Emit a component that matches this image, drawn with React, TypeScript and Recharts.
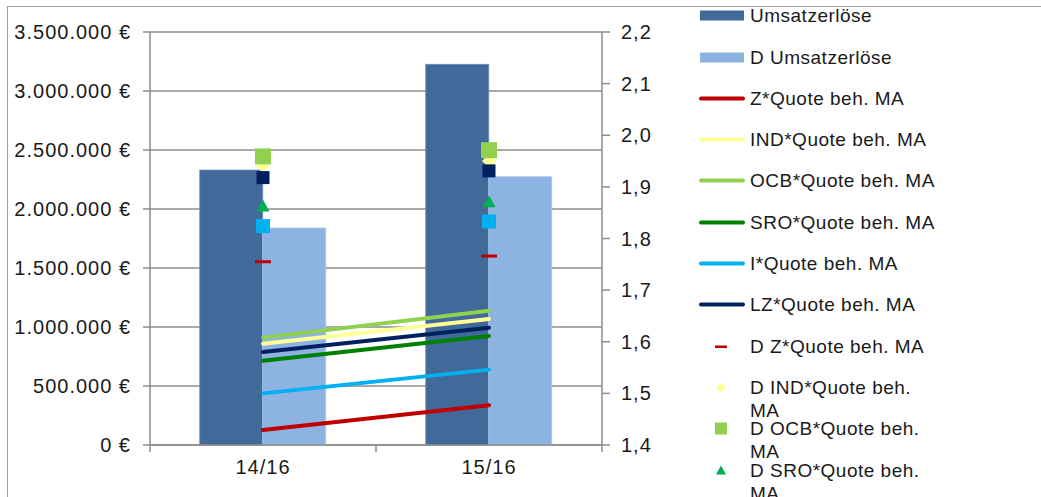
import { ComposedChart, Bar, Line, XAxis, YAxis, CartesianGrid } from 'recharts';

// Categories and values
const CATEGORIES = ['14/16', '15/16'];
const UMSATZ = [2330000, 3226000];
const D_UMSATZ = [1839000, 2274000];

const Z_QUOTE = [1.429, 1.477];
const IND_QUOTE = [1.596, 1.644];
const OCB_QUOTE = [1.608, 1.66];
const SRO_QUOTE = [1.563, 1.611];
const I_QUOTE = [1.5, 1.546];
const LZ_QUOTE = [1.58, 1.627];

const D_Z_QUOTE = [1.755, 1.766];
const D_IND_QUOTE = [1.94, 1.95];
const D_OCB_QUOTE = [1.959, 1.971];
const D_SRO_QUOTE = [1.862, 1.87];
const D_I_QUOTE = [1.824, 1.833];
const D_LZ_QUOTE = [1.918, 1.931];

const LEFT_TICKS = [0, 500000, 1000000, 1500000, 2000000, 2500000, 3000000, 3500000];
const RIGHT_TICKS = [1.4, 1.5, 1.6, 1.7, 1.8, 1.9, 2.0, 2.1, 2.2];

// chart geometry
const W = 1041;
const H = 497;
const PLOT_LEFT = 150;
const PLOT_RIGHT = 602;
const PLOT_TOP = 32;
const PLOT_BOTTOM = 445;
const BAND = (PLOT_RIGHT - PLOT_LEFT) / CATEGORIES.length;

const FONT = '"Liberation Sans", Arial, sans-serif';
const AXIS_GRAY = '#8c8c8c';
const TEXT = '#1a1a1a';

const data = CATEGORIES.map((cat, i) => ({
  cat,
  umsatz: UMSATZ[i],
  dUmsatz: D_UMSATZ[i],
  z: Z_QUOTE[i],
  ind: IND_QUOTE[i],
  ocb: OCB_QUOTE[i],
  sro: SRO_QUOTE[i],
  iq: I_QUOTE[i],
  lz: LZ_QUOTE[i],
  dz: D_Z_QUOTE[i],
  dind: D_IND_QUOTE[i],
  docb: D_OCB_QUOTE[i],
  dsro: D_SRO_QUOTE[i],
  di: D_I_QUOTE[i],
  dlz: D_LZ_QUOTE[i],
}));

const euro = (v: number) => String(v).replace(/\B(?=(\d{3})+(?!\d))/g, '.') + ' €';
const comma = (v: number) => v.toFixed(1).replace('.', ',');

type Shape = 'bar' | 'line' | 'dash' | 'diamond' | 'square' | 'smallSquare' | 'triangle';

const dashDot = (color: string) => (p: any) => (
  <rect key={p.key} x={p.cx - 8} y={p.cy - 1.5} width={16} height={3} fill={color} />
);
const squareDot = (color: string, size: number) => (p: any) => (
  <rect key={p.key} x={p.cx - size / 2} y={p.cy - size / 2} width={size} height={size} fill={color} />
);
const diamondDot = (color: string) => (p: any) => (
  <path key={p.key} d={`M${p.cx},${p.cy - 7} L${p.cx + 7},${p.cy} L${p.cx},${p.cy + 7} L${p.cx - 7},${p.cy} Z`} fill={color} />
);
const triangleDot = (color: string) => (p: any) => (
  <path key={p.key} d={`M${p.cx},${p.cy - 7} L${p.cx + 6.5},${p.cy + 5} L${p.cx - 6.5},${p.cy + 5} Z`} fill={color} />
);

const LEGEND: { name: string; color: string; shape: Shape }[] = [
  { name: 'Umsatzerlöse', color: '#41699a', shape: 'bar' },
  { name: 'D Umsatzerlöse', color: '#8db3e2', shape: 'bar' },
  { name: 'Z*Quote beh. MA', color: '#c00000', shape: 'line' },
  { name: 'IND*Quote beh. MA', color: '#ffff99', shape: 'line' },
  { name: 'OCB*Quote beh. MA', color: '#92d050', shape: 'line' },
  { name: 'SRO*Quote beh. MA', color: '#008000', shape: 'line' },
  { name: 'I*Quote beh. MA', color: '#00b0f0', shape: 'line' },
  { name: 'LZ*Quote beh. MA', color: '#002060', shape: 'line' },
  { name: 'D Z*Quote beh. MA', color: '#c00000', shape: 'dash' },
  { name: 'D IND*Quote beh. MA', color: '#ffff99', shape: 'diamond' },
  { name: 'D OCB*Quote beh. MA', color: '#92d050', shape: 'square' },
  { name: 'D SRO*Quote beh. MA', color: '#00b050', shape: 'triangle' },
  { name: 'D I*Quote beh. MA', color: '#00b0f0', shape: 'square' },
  { name: 'D LZ*Quote beh. MA', color: '#002060', shape: 'smallSquare' },
];

function Swatch({ shape, color }: { shape: Shape; color: string }) {
  const cx = 24;
  const cy = 11.5;
  return (
    <svg width={50} height={23} style={{ position: 'absolute', left: 0, top: 0 }}>
      {shape === 'bar' && <rect x={3} y={cy - 5} width={44} height={10} fill={color} />}
      {shape === 'line' && <line x1={4} x2={46} y1={cy} y2={cy} stroke={color} strokeWidth={4} strokeLinecap="round" />}
      {shape === 'dash' && <rect x={cx - 6} y={cy - 1} width={12} height={2.5} fill={color} />}
      {shape === 'diamond' && <path d={`M${cx},${cy - 5} L${cx + 5},${cy} L${cx},${cy + 5} L${cx - 5},${cy} Z`} fill={color} />}
      {(shape === 'square' || shape === 'smallSquare') && <rect x={cx - 6} y={cy - 6} width={12} height={12} fill={color} />}
      {shape === 'triangle' && <path d={`M${cx},${cy - 5} L${cx + 5},${cy + 4} L${cx - 5},${cy + 4} Z`} fill={color} />}
    </svg>
  );
}

function CategoryTick(props: any) {
  const { x, y, payload, index } = props;
  const left = x - BAND / 2;
  return (
    <g>
      <line x1={left} x2={left} y1={y} y2={y + 7} stroke={AXIS_GRAY} strokeWidth={1.5} />
      {index === CATEGORIES.length - 1 && (
        <line x1={x + BAND / 2} x2={x + BAND / 2} y1={y} y2={y + 7} stroke={AXIS_GRAY} strokeWidth={1.5} />
      )}
      <text x={x} y={y + 29} textAnchor="middle" fontSize={20} letterSpacing={1} fill={TEXT} fontFamily={FONT}>
        {payload.value}
      </text>
    </g>
  );
}

export default function App() {
  return (
    <div style={{ position: 'absolute', left: 0, top: 0, width: W, height: H, overflow: 'hidden', background: '#fff', fontFamily: FONT }}>
      <div
        style={{
          position: 'absolute',
          left: 7,
          top: 6,
          width: W,
          height: H,
          borderTop: '1.5px solid #a0a0a0',
          borderLeft: '1.5px solid #a0a0a0',
        }}
      />
      <ComposedChart
        width={W}
        height={H}
        data={data}
        margin={{ top: PLOT_TOP, right: W - PLOT_RIGHT - 80, bottom: 7, left: 0 }}
        barCategoryGap="22%"
        barGap={0}
        style={{ position: 'absolute', left: 0, top: 0 }}
      >
        <CartesianGrid yAxisId="l" vertical={false} stroke={AXIS_GRAY} strokeWidth={1.5} />
        <XAxis
          dataKey="cat"
          height={H - PLOT_BOTTOM - 7}
          tickSize={0}
          tickMargin={0}
          tickLine={false}
          axisLine={{ stroke: AXIS_GRAY, strokeWidth: 1.5 }}
          tick={<CategoryTick />}
          interval={0}
        />
        <YAxis
          yAxisId="l"
          width={PLOT_LEFT}
          domain={[0, 3500000]}
          ticks={LEFT_TICKS}
          tickFormatter={euro}
          tickSize={7}
          tickMargin={12}
          tickLine={{ stroke: AXIS_GRAY, strokeWidth: 1.5 }}
          axisLine={{ stroke: AXIS_GRAY, strokeWidth: 1.5 }}
          tick={{ fontSize: 20, fill: TEXT, fontFamily: FONT, letterSpacing: 1 }}
          interval={0}
        />
        <YAxis
          yAxisId="r"
          orientation="right"
          width={80}
          domain={[1.4, 2.2]}
          ticks={RIGHT_TICKS}
          tickFormatter={comma}
          tickSize={8}
          tickMargin={11}
          tickLine={{ stroke: AXIS_GRAY, strokeWidth: 1.5 }}
          axisLine={{ stroke: AXIS_GRAY, strokeWidth: 1.5 }}
          tick={{ fontSize: 20, fill: TEXT, fontFamily: FONT, letterSpacing: 1 }}
          interval={0}
          allowDataOverflow
        />
        <Bar yAxisId="l" dataKey="umsatz" fill="#41699a" stroke="#6d8db5" strokeWidth={0.8} isAnimationActive={false} />
        <Bar yAxisId="l" dataKey="dUmsatz" fill="#8db3e2" stroke="#a9c6ea" strokeWidth={0.8} isAnimationActive={false} />

        <Line yAxisId="r" dataKey="z" stroke="#c00000" strokeWidth={4} strokeLinecap="round" dot={false} activeDot={false} isAnimationActive={false} />
        <Line yAxisId="r" dataKey="ind" stroke="#ffff99" strokeWidth={4} strokeLinecap="round" dot={false} activeDot={false} isAnimationActive={false} />
        <Line yAxisId="r" dataKey="ocb" stroke="#92d050" strokeWidth={4} strokeLinecap="round" dot={false} activeDot={false} isAnimationActive={false} />
        <Line yAxisId="r" dataKey="sro" stroke="#008000" strokeWidth={4} strokeLinecap="round" dot={false} activeDot={false} isAnimationActive={false} />
        <Line yAxisId="r" dataKey="iq" stroke="#00b0f0" strokeWidth={4} strokeLinecap="round" dot={false} activeDot={false} isAnimationActive={false} />
        <Line yAxisId="r" dataKey="lz" stroke="#002060" strokeWidth={4} strokeLinecap="round" dot={false} activeDot={false} isAnimationActive={false} />

        <Line yAxisId="r" dataKey="dz" stroke="none" dot={dashDot('#c00000')} activeDot={false} isAnimationActive={false} />
        <Line yAxisId="r" dataKey="dind" stroke="none" dot={diamondDot('#ffff99')} activeDot={false} isAnimationActive={false} />
        <Line yAxisId="r" dataKey="docb" stroke="none" dot={squareDot('#92d050', 16)} activeDot={false} isAnimationActive={false} />
        <Line yAxisId="r" dataKey="dsro" stroke="none" dot={triangleDot('#00b050')} activeDot={false} isAnimationActive={false} />
        <Line yAxisId="r" dataKey="di" stroke="none" dot={squareDot('#00b0f0', 14)} activeDot={false} isAnimationActive={false} />
        <Line yAxisId="r" dataKey="dlz" stroke="none" dot={squareDot('#002060', 13)} activeDot={false} isAnimationActive={false} />
      </ComposedChart>

      {/* legend, fixed row pitch; long names wrap into the next row */}
      {LEGEND.map((item, i) => (
        <div
          key={item.name}
          style={{ position: 'absolute', left: 697, top: 15.7 + i * 41.3 - 11.5, width: 300 }}
        >
          <Swatch shape={item.shape} color={item.color} />
          <div
            style={{
              position: 'absolute',
              left: 53,
              top: 0,
              width: 191,
              fontSize: 19,
              letterSpacing: 0.5,
              lineHeight: '23px',
              color: TEXT,
              fontFamily: FONT,
            }}
          >
            {item.name}
          </div>
        </div>
      ))}
    </div>
  );
}
